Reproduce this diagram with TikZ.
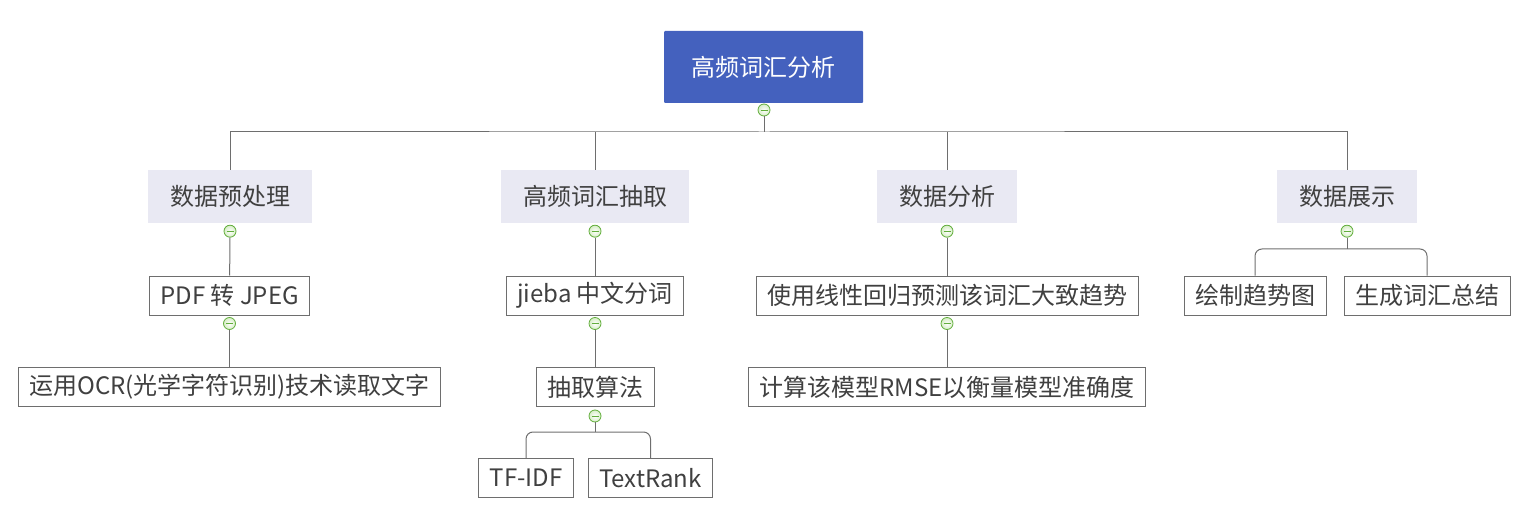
\documentclass[tikz,border=0pt]{standalone}
\usepackage{fontspec}
\newfontfamily\cjk{Noto Sans CJK SC}
\definecolor{rootblue}{HTML}{4461BE}
\definecolor{topicgray}{HTML}{E9E9F3}
\definecolor{linegray}{HTML}{6E6E6E}
\definecolor{textgray}{HTML}{404040}
\definecolor{foldgreen}{HTML}{62AE3C}
\definecolor{foldfill}{HTML}{D6EDC6}
\tikzset{
	root/.style={fill=rootblue, text=white, font=\cjk\fontsize{24}{29}\selectfont, minimum width=199pt, minimum height=72pt, rounded corners=1pt},
	topic/.style={fill=topicgray, text=textgray, font=\cjk\fontsize{24}{29}\selectfont, minimum height=53pt, inner xsep=22pt},
	leaf/.style={draw=linegray, line width=1pt, fill=white, text=textgray, font=\cjk\fontsize{24}{29}\selectfont, minimum height=39pt, inner xsep=11pt},
	fold/.style={circle, draw=foldgreen, line width=0.8pt, inner color=white, outer color=foldfill, minimum size=12pt, inner sep=0pt,
		path picture={\draw[foldgreen, line width=0.9pt] ([xshift=-3.5pt]path picture bounding box.center) -- ([xshift=3.5pt]path picture bounding box.center);}},
	link/.style={draw=linegray, line width=1pt}
}
\begin{document}
\begin{tikzpicture}[x=1pt,y=-1pt]
	\useasboundingbox (0,0) rectangle (1530,529); % Fixes the page size...
		% root and main branches
		\node[root] (Root) at (763.5,67) {高频词汇分析};
		\node[fold] (RootFold) at (764,110) {};
		\coordinate (Bus) at (764,132);

		\node[topic] (Prep)    at (230,196.5)  {数据预处理};
		\node[topic] (Extract) at (595,196.5)  {高频词汇抽取};
		\node[topic] (Analyse) at (947,196.5)  {数据分析};
		\node[topic] (Show)    at (1347,196.5) {数据展示};
		\foreach \n in {Prep,Extract,Analyse,Show}{\node[fold] (\n Fold) at ([yshift=-8pt]\n.south) {};}

		% leaves
		\node[leaf] (Pdf)      at (229.5,295.5) {PDF 转 JPEG};
		\node[leaf] (Ocr)      at (229.5,387)   {运用OCR(光学字符识别)技术读取文字};
		\node[leaf] (Jieba)    at (595,295.5)   {jieba 中文分词};
		\node[leaf] (Algo)     at (595,387)     {抽取算法};
		\node[leaf] (Tfidf)    at (526,478)     {TF-IDF};
		\node[leaf] (Textrank) at (650.5,478)   {TextRank};
		\node[leaf] (Regress)  at (947,295.5)   {使用线性回归预测该词汇大致趋势};
		\node[leaf] (Rmse)     at (947,387)     {计算该模型RMSE以衡量模型准确度};
		\node[leaf] (Trend)    at (1255,295.5)  {绘制趋势图};
		\node[leaf] (Summary)  at (1427,295.5)  {生成词汇总结};
		\foreach \n in {Pdf,Jieba,Regress}{\node[fold] (\n Fold) at ([yshift=-8pt]\n.south) {};}
		\node[fold] (AlgoFold) at ([yshift=-9pt]Algo.south) {};

		% connectors
		\draw[link] (RootFold) -- (Bus);
		\draw[link] (Prep) |- (Bus) -| (Show);
		\draw[link] (Extract) -- (Extract |- Bus);
		\draw[link] (Analyse) -- (Analyse |- Bus);
		\draw[link] (PrepFold) -- (Pdf);
		\draw[link] (PdfFold) -- (Ocr);
		\draw[link] (ExtractFold) -- (Jieba);
		\draw[link] (JiebaFold) -- (Algo);
		\draw[link] (AnalyseFold) -- (Regress);
		\draw[link] (RegressFold) -- (Rmse);

		\coordinate (AlgoBranch) at (595,432);
		\draw[link] (AlgoFold) -- (AlgoBranch);
		\draw[link,rounded corners=7pt] (Tfidf) |- (AlgoBranch) -| (Textrank);

		\coordinate (ShowBranch) at (1347,249);
		\draw[link] (ShowFold) -- (ShowBranch);
		\draw[link,rounded corners=7pt] (Trend) |- (ShowBranch) -| (Summary);
\end{tikzpicture}
\end{document}
